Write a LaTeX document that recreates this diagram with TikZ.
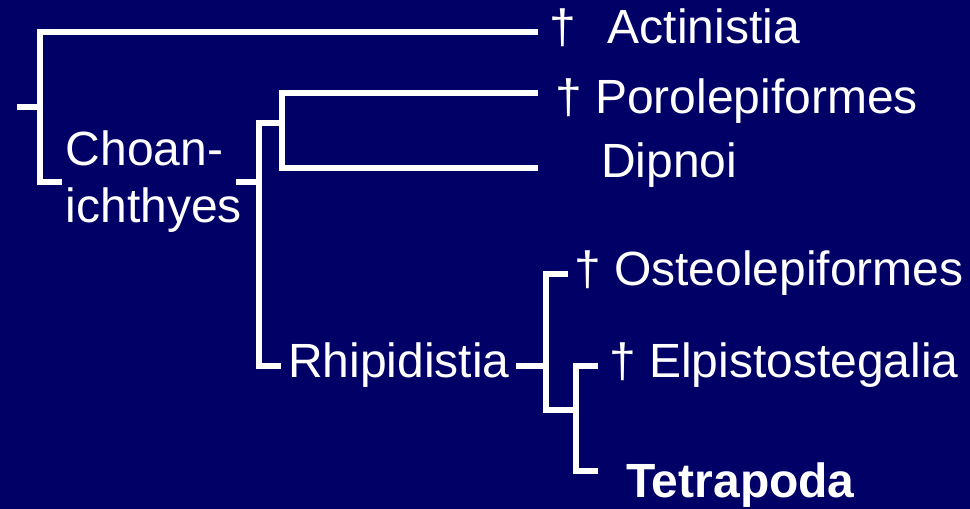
\documentclass[tikz,border=0pt]{standalone}
\usepackage{fontspec}
\setmainfont{Liberation Sans}
\definecolor{navy}{RGB}{0,0,102}
\begin{document}
\begin{tikzpicture}[x=1pt,y=-1pt,
  lbl/.style={text=white,inner sep=0pt,anchor=base west,font=\fontsize{48}{57}\selectfont},
  branch/.style={draw=white,line width=5.5pt,line join=miter,line cap=butt}]
\fill[navy] (0,0) rectangle (970,509);
\useasboundingbox (0,0) rectangle (970,509);
% labels
\node[lbl] (act) at (549,43) {†\hspace{32pt}Actinistia};
\node[lbl] (por) at (555,113) {† Porolepiformes};
\node[lbl] (dip) at (601,177) {Dipnoi};
\node[lbl] (ost) at (574,285) {† Osteolepiformes};
\node[lbl] (elp) at (609,377) {† Elpistostegalia};
\node[lbl,font=\fontsize{48}{57}\selectfont\bfseries] (tet) at (626,497) {Tetrapoda};
\node[lbl,align=left] (cho) at (65.5,222) {Choan-\\ichthyes};
\node[lbl] (rhi) at (288,377) {Rhipidistia};
% joints
\coordinate (root) at (17,107);
\coordinate (n1) at (40,107);
\coordinate (n1t) at (40,32);
\coordinate (n1b) at (40,182);
\coordinate (actE) at (538,32);
\coordinate (choW) at (62,182);
\coordinate (choE) at (236,182);
\coordinate (n2) at (259,182);
\coordinate (n2t) at (259,123);
\coordinate (n2b) at (259,366);
\coordinate (n3) at (282,123);
\coordinate (n3t) at (282,93);
\coordinate (n3b) at (282,168);
\coordinate (porE) at (538,93);
\coordinate (dipE) at (538,168);
\coordinate (rhiW) at (281,366);
\coordinate (rhiE) at (516,366);
\coordinate (n4) at (546,366);
\coordinate (n4t) at (546,274);
\coordinate (n4b) at (546,410);
\coordinate (ostE) at (568,274);
\coordinate (n5) at (576,410);
\coordinate (n5t) at (576,366);
\coordinate (n5b) at (576,471);
\coordinate (elpE) at (598,366);
\coordinate (tetE) at (598,471);
% branches
\draw[branch] (root) -- (n1);
\draw[branch] (actE) -- (n1t) -- (n1b) -- (choW);
\draw[branch] (choE) -- (n2);
\draw[branch] (n3) -- (n2t) -- (n2b) -- (rhiW);
\draw[branch] (porE) -- (n3t) -- (n3b) -- (dipE);
\draw[branch] (rhiE) -- (n4);
\draw[branch] (ostE) -- (n4t) -- (n4b) -- (n5);
\draw[branch] (elpE) -- (n5t) -- (n5b) -- (tetE);
\end{tikzpicture}
\end{document}
